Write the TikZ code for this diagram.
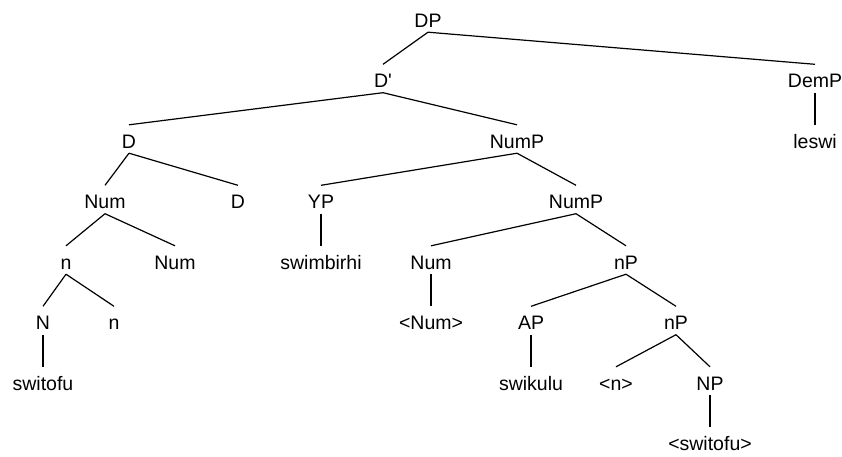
\documentclass[tikz,border=0pt]{standalone}
\usepackage{xcolor}
\usepackage{fontspec}
\usepackage{tikz}
\usetikzlibrary{positioning}
\newfontfamily\treefont{Liberation Sans}

\begin{document}
\begin{tikzpicture}[x=1pt, y=1pt, node distance=60.5pt,
    word/.style={font=\treefont\fontsize{19.5}{22}\selectfont, text height=19pt, text depth=1pt, inner xsep=2pt, inner ysep=4pt},
    branch/.style={line width=1.2pt}]
        \useasboundingbox (0,0) rectangle (842,-456);
        \node[word] (DP) at (428,-18) {DP};
        \node[word] (Dbar) [below of=DP, xshift=-45pt] {D'};
        \node[word] (DemP) [below of=DP, xshift=387pt] {DemP};
        \node[word] (D) [below of=Dbar, xshift=-254pt] {D};
        \node[word] (NumP) [below of=Dbar, xshift=134pt] {NumP};
        \node[word] (leswi) [below of=DemP] {leswi};
        \node[word] (Num) [below of=D, xshift=-24pt] {Num};
        \node[word] (Dh) [below of=D, xshift=109pt] {D};
        \node[word] (YP) [below of=NumP, xshift=-196pt] {YP};
        \node[word] (NumPb) [below of=NumP, xshift=59pt] {NumP};
        \node[word] (n) [below of=Num, xshift=-39pt] {n};
        \node[word] (Numb) [below of=Num, xshift=70pt] {Num};
        \node[word] (swim) [below of=YP] {swimbirhi};
        \node[word] (Numc) [below of=NumPb, xshift=-145pt] {Num};
        \node[word] (nP) [below of=NumPb, xshift=50pt] {nP};
        \node[word] (N) [below of=n, xshift=-23pt] {N};
        \node[word] (nb) [below of=n, xshift=48pt] {n};
        \node[word] (angNum) [below of=Numc] {<Num>};
        \node[word] (AP) [below of=nP, xshift=-95pt] {AP};
        \node[word] (nPb) [below of=nP, xshift=50pt] {nP};
        \node[word] (switofu) [below of=N] {switofu};
        \node[word] (swikulu) [below of=AP] {swikulu};
        \node[word] (angn) [below of=nPb, xshift=-60pt] {<n>};
        \node[word] (NP) [below of=nPb, xshift=34pt] {NP};
        \node[word] (angswitofu) [below of=NP] {<switofu>};

        \path[branch] (DP.south) edge (Dbar.north)
              (DP.south) edge (DemP.north)
              (Dbar.south) edge (D.north)
              (Dbar.south) edge (NumP.north)
              (DemP.south) edge (leswi.north)
              (D.south) edge (Num.north)
              (D.south) edge (Dh.north)
              (NumP.south) edge (YP.north)
              (NumP.south) edge (NumPb.north)
              (Num.south) edge (n.north)
              (Num.south) edge (Numb.north)
              (YP.south) edge (swim.north)
              (NumPb.south) edge (Numc.north)
              (NumPb.south) edge (nP.north)
              (n.south) edge (N.north)
              (n.south) edge (nb.north)
              (Numc.south) edge (angNum.north)
              (nP.south) edge (AP.north)
              (nP.south) edge (nPb.north)
              (N.south) edge (switofu.north)
              (AP.south) edge (swikulu.north)
              (nPb.south) edge (angn.north)
              (nPb.south) edge (NP.north)
              (NP.south) edge (angswitofu.north);
    \end{tikzpicture}
\end{document}
